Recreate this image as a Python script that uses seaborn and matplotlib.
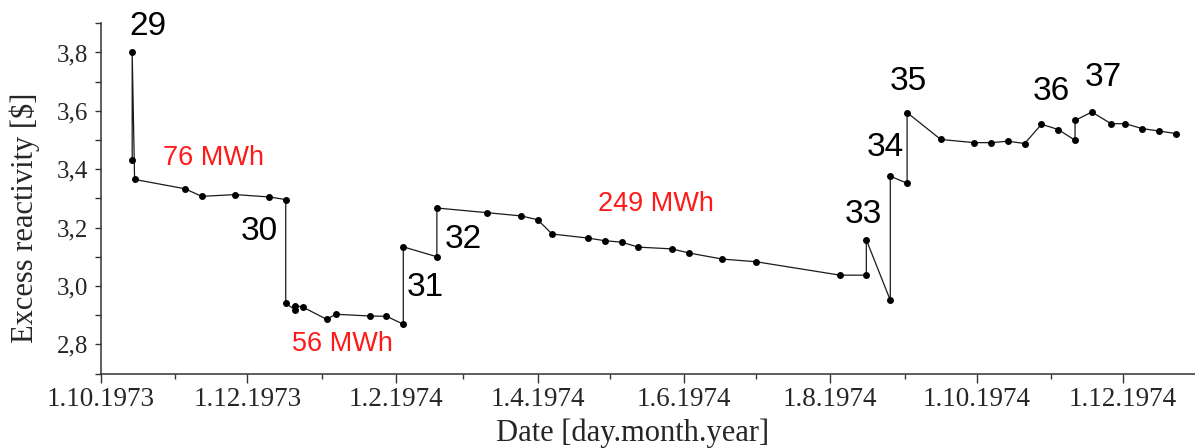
import numpy as np
import pandas as pd
import matplotlib
matplotlib.use("Agg")
import matplotlib.pyplot as plt
import matplotlib.dates as mdates
from matplotlib.ticker import FixedLocator, FuncFormatter
import seaborn as sns

# ---------------- data ----------------
dates = [
    "1973-10-14", "1973-10-14", "1973-10-15", "1973-11-05", "1973-11-12",
    "1973-11-26", "1973-12-10", "1973-12-17", "1973-12-17", "1973-12-21",
    "1973-12-21", "1973-12-24", "1974-01-03", "1974-01-07", "1974-01-21",
    "1974-01-28", "1974-02-04", "1974-02-04", "1974-02-18", "1974-02-18",
    "1974-03-11", "1974-03-25", "1974-04-01", "1974-04-07", "1974-04-22",
    "1974-04-29", "1974-05-06", "1974-05-13", "1974-05-27", "1974-06-03",
    "1974-06-17", "1974-07-01", "1974-08-05", "1974-08-16", "1974-08-16",
    "1974-08-26", "1974-08-26", "1974-09-02", "1974-09-02", "1974-09-16",
    "1974-09-30", "1974-10-07", "1974-10-14", "1974-10-21", "1974-10-28",
    "1974-11-04", "1974-11-11", "1974-11-11", "1974-11-18", "1974-11-26",
    "1974-12-02", "1974-12-09", "1974-12-16", "1974-12-23",
]
reactivity = [
    3.432, 3.800, 3.365, 3.333, 3.307,
    3.313, 3.305, 3.296, 2.940, 2.918,
    2.932, 2.928, 2.886, 2.903, 2.897,
    2.896, 2.869, 3.134, 3.100, 3.267,
    3.251, 3.240, 3.227, 3.178, 3.164,
    3.155, 3.150, 3.133, 3.127, 3.113,
    3.092, 3.083, 3.037, 3.037, 3.158,
    2.951, 3.376, 3.352, 3.594, 3.502,
    3.491, 3.491, 3.496, 3.488, 3.554,
    3.536, 3.499, 3.567, 3.596, 3.556,
    3.556, 3.539, 3.531, 3.522,
]

cycle_labels = ["29", "30", "31", "32", "33", "34", "35", "36", "37"]
energy_labels = ["76 MWh", "56 MWh", "249 MWh"]

x_tick_dates = ["1973-10-01", "1973-12-01", "1974-02-01", "1974-04-01",
                "1974-06-01", "1974-08-01", "1974-10-01", "1974-12-01"]
x_minor_dates = ["1973-11-01", "1974-01-01", "1974-03-01", "1974-05-01",
                 "1974-07-01", "1974-09-01", "1974-11-01"]
y_ticks = [2.8, 3.0, 3.2, 3.4, 3.6, 3.8]
y_minor = [2.7, 2.9, 3.1, 3.3, 3.5, 3.7, 3.9]

# ---------------- layout (text positions: days after 1.10.1973, value) ----
cycle_pos = [(19.6, 3.889), (65.9, 3.186), (135.1, 2.993), (151.1, 3.160),
             (317.9, 3.246), (326.8, 3.473), (336.6, 3.700), (396.2, 3.665),
             (417.8, 3.713)]
energy_pos = [(47.1, 3.440), (100.7, 2.801), (231.3, 3.282)]

df = pd.DataFrame({"date": pd.to_datetime(dates), "rho": reactivity})
origin = pd.Timestamp("1973-10-01")

sns.set_style("ticks")
plt.rcParams["font.family"] = ["Liberation Serif", "DejaVu Serif"]

W, H = 1195, 448
fig = plt.figure(figsize=(W / 100, H / 100), dpi=100)
ax_left, ax_right, ax_bottom, ax_top = 101, 1195, 373.5, 22.7
ax = fig.add_axes([ax_left / W, (H - ax_bottom) / H,
                   (ax_right - ax_left) / W, (ax_bottom - ax_top) / H])

sns.lineplot(data=df, x="date", y="rho", ax=ax, sort=False, estimator=None,
             color="#1a1a1a", linewidth=0.9, marker="o", markersize=5.0,
             markeredgewidth=0, markerfacecolor="black")

ax.set_xlim(origin, origin + pd.Timedelta(days=456.0))
ax.set_ylim(2.7, 3.902)

ax.xaxis.set_major_locator(FixedLocator(mdates.date2num(pd.to_datetime(x_tick_dates))))
ax.xaxis.set_minor_locator(FixedLocator(mdates.date2num(pd.to_datetime(x_minor_dates))))
ax.xaxis.set_major_formatter(FuncFormatter(
    lambda v, p: (lambda d: f"{d.day}.{d.month}.{d.year}")(mdates.num2date(v))))
ax.yaxis.set_major_locator(FixedLocator(y_ticks))
ax.yaxis.set_minor_locator(FixedLocator(y_minor))
ax.yaxis.set_major_formatter(FuncFormatter(lambda v, p: f"{v:.1f}".replace(".", ",")))

for s in ["top", "right"]:
    ax.spines[s].set_visible(False)
for s in ["left", "bottom"]:
    ax.spines[s].set_color("#333333")
    ax.spines[s].set_linewidth(1.1)

ax.tick_params(axis="x", which="major", length=6.5, width=1.0, color="#333333",
               labelsize=19.5, pad=3, direction="out")
ax.tick_params(axis="x", which="minor", length=3.8, width=1.0, color="#333333",
               direction="out")
ax.tick_params(axis="y", which="both", length=4.0, width=1.0, color="#333333",
               labelsize=18, pad=5, direction="out")

ax.set_xlabel("Date [day.month.year]", fontsize=22)
ax.set_ylabel("Excess reactivity [$]", fontsize=22)
ax.xaxis.set_label_coords((633 - ax_left) / (ax_right - ax_left),
                          -(433 - ax_bottom) / (ax_bottom - ax_top))
ax.yaxis.set_label_coords(-(ax_left - 25) / (ax_right - ax_left),
                          (ax_bottom - 218) / (ax_bottom - ax_top))
ax.xaxis.label.set_va("center")
ax.yaxis.label.set_va("center")

sans = ["Liberation Sans", "DejaVu Sans"]
for lab, (d, v) in zip(cycle_labels, cycle_pos):
    ax.text(origin + pd.Timedelta(days=d), v, lab, fontsize=24, family=sans,
            ha="center", va="center", color="black")
for lab, (d, v) in zip(energy_labels, energy_pos):
    ax.text(origin + pd.Timedelta(days=d), v, lab, fontsize=19.5, family=sans,
            ha="center", va="center", color="#ff1a1a")

for ln in ax.lines:
    ln.set_clip_on(False)

fig.savefig("out.png", dpi=100)
